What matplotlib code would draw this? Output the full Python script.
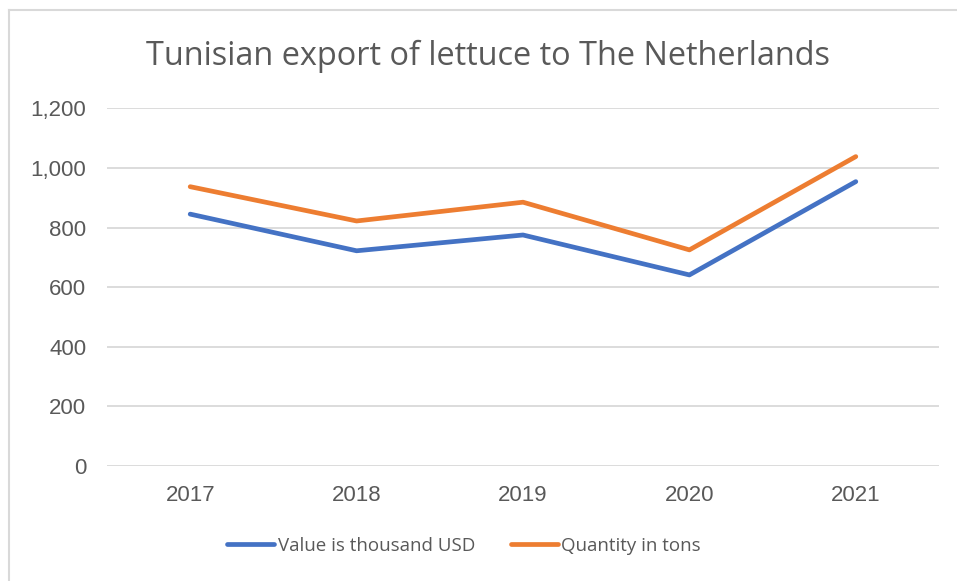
import matplotlib.pyplot as plt
from matplotlib.ticker import FuncFormatter
from matplotlib.lines import Line2D

years = ['2017', '2018', '2019', '2020', '2021']
value_usd = [845, 722, 775, 641, 954]
quantity_tons = [937, 822, 885, 725, 1038]

grey_txt = '#595959'
grid_col = '#d9d9d9'

fig = plt.figure(figsize=(9.57, 5.81), dpi=100)
ax = fig.add_axes([107 / 957, 1 - 466 / 581, (939 - 107) / 957, (466 - 108.3) / 581])

x = range(len(years))
ax.plot(x, value_usd, color='#4472c4', lw=3.4, solid_capstyle='round',
        solid_joinstyle='round', label='Value is thousand USD')
ax.plot(x, quantity_tons, color='#ed7d31', lw=3.4, solid_capstyle='round',
        solid_joinstyle='round', label='Quantity in tons')

ax.set_xlim(-0.5, len(years) - 0.5)
ax.set_ylim(0, 1200)
ax.set_yticks(range(0, 1201, 200))
ax.yaxis.set_major_formatter(FuncFormatter(lambda v, p: f'{int(v):,}'))
ax.set_xticks(list(x))
ax.set_xticklabels(years)
ax.grid(axis='y', color=grid_col, lw=1.3)
ax.set_axisbelow(True)
for s in ax.spines.values():
    s.set_visible(False)
ax.tick_params(length=0, labelsize=16, colors=grey_txt)
ax.tick_params(axis='x', pad=14)
ax.tick_params(axis='y', pad=15)
for lab in ax.get_xticklabels() + ax.get_yticklabels():
    lab.set_fontfamily('Liberation Sans')

fig.text(488.5 / 957, 1 - 56 / 581, 'Tunisian export of lettuce to The Netherlands',
         ha='center', va='center', fontsize=23.4, color=grey_txt, fontfamily='Open Sans')

leg = fig.legend(loc='center', bbox_to_anchor=(464 / 957, 1 - 546 / 581), ncol=2, frameon=False,
                 handlelength=2.5, handletextpad=0.2, columnspacing=1.9,
                 prop={'family': 'Open Sans', 'size': 13.5})
for t in leg.get_texts():
    t.set_color(grey_txt)

# chart border
fig.add_artist(Line2D([9 / 957, 1], [1 - 10 / 581, 1 - 10 / 581], color=grid_col, lw=1.5))
fig.add_artist(Line2D([9 / 957, 9 / 957], [0, 1 - 10 / 581], color=grid_col, lw=1.5))

fig.savefig('out.png', dpi=100)
